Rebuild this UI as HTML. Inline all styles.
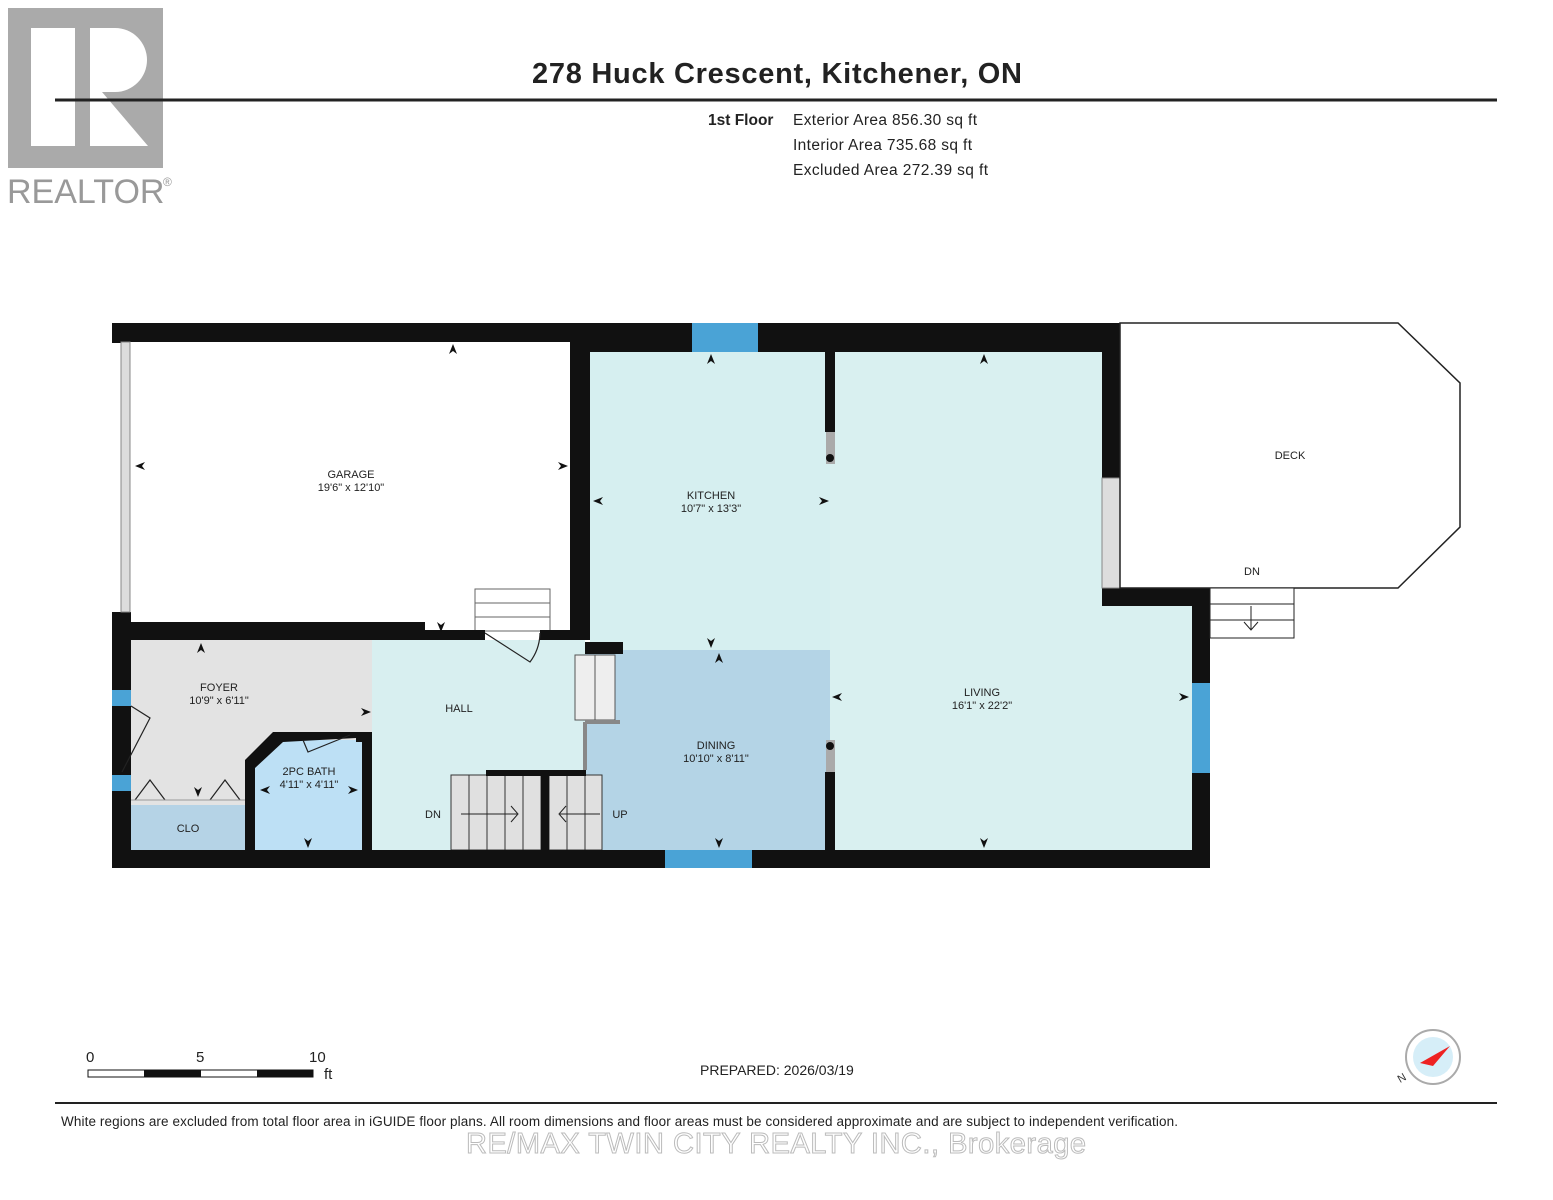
<!DOCTYPE html>
<html><head><meta charset="utf-8"><style>
body{margin:0;background:#fff;}
svg{display:block;font-family:"Liberation Sans",sans-serif;}
</style></head><body>
<svg width="1553" height="1200" viewBox="0 0 1553 1200">
<!-- Realtor logo -->
<rect x="8" y="8" width="155" height="160" fill="#aaa"/>
<rect x="31" y="28" width="44" height="118" fill="#fff"/>
<path d="M90 28 H115 A32 32 0 0 1 115 92 H102 L148 146 H90 Z" fill="#fff"/>
<text x="7" y="203" font-size="34" fill="#999">REALTOR</text>
<text x="163" y="186" font-size="12" fill="#999">®</text>
<text x="777" y="83" font-size="29" font-weight="bold" text-anchor="middle" fill="#222" textLength="490">278 Huck Crescent, Kitchener, ON</text>
<line x1="55" y1="100" x2="1497" y2="100" stroke="#222" stroke-width="3"/>
<g font-size="15.5" fill="#222">
<text x="708" y="125" font-weight="bold">1st Floor</text>
<text x="793" y="125" textLength="184">Exterior Area 856.30 sq ft</text>
<text x="793" y="150" textLength="179">Interior Area 735.68 sq ft</text>
<text x="793" y="175" textLength="195">Excluded Area 272.39 sq ft</text>
</g>
<!-- fills -->
<rect x="590" y="352" width="240" height="300" fill="#d6eff0"/>
<rect x="830" y="352" width="272" height="498" fill="#d9f0f0"/>
<rect x="1100" y="606" width="92" height="244" fill="#d9f0f0"/>
<rect x="585" y="650" width="245" height="200" fill="#b4d4e6"/>
<rect x="372" y="640" width="213" height="210" fill="#d8eff0"/>
<rect x="131" y="640" width="241" height="210" fill="#e3e3e3"/>
<rect x="131" y="805" width="114" height="45" fill="#b5d3e6"/>
<polygon points="255,760 278,740 362,740 362,850 255,850" fill="#bde0f5"/>
<!-- stairs -->
<g fill="#e0e0e0" stroke="#333" stroke-width="1">
<rect x="451" y="775" width="90" height="75"/>
<rect x="549" y="775" width="53" height="75"/>
<line x1="469" y1="775" x2="469" y2="850"/><line x1="487" y1="775" x2="487" y2="850"/><line x1="505" y1="775" x2="505" y2="850"/><line x1="523" y1="775" x2="523" y2="850"/>
<line x1="567" y1="775" x2="567" y2="850"/><line x1="585" y1="775" x2="585" y2="850"/>
</g>
<path d="M461 814 H517 M511 806 L518 814 L511 822 M600 814 H560 M566 806 L559 814 L566 822" stroke="#222" fill="none"/>
<rect x="486" y="770" width="100" height="6" fill="#111"/>
<rect x="541" y="775" width="8" height="75" fill="#111"/>
<!-- garage steps -->
<rect x="475" y="589" width="75" height="42" fill="#fff" stroke="#666"/>
<line x1="475" y1="603" x2="550" y2="603" stroke="#666"/><line x1="475" y1="617" x2="550" y2="617" stroke="#666"/>
<!-- walls -->
<g fill="#111">
<rect x="112" y="323" width="1008" height="19"/>
<rect x="590" y="323" width="512" height="29"/>
<rect x="1102" y="323" width="18" height="155"/>
<rect x="112" y="612" width="19" height="256"/>
<rect x="112" y="323" width="9" height="20"/>
<rect x="112" y="850" width="1098" height="18"/>
<rect x="1192" y="588" width="18" height="280"/>
<rect x="1102" y="588" width="108" height="18"/>
<rect x="570" y="342" width="20" height="298"/>
<rect x="112" y="622" width="313" height="18"/>
<rect x="425" y="630" width="60" height="10"/>
<rect x="540" y="630" width="45" height="10"/>
<rect x="585" y="642" width="38" height="12"/>
<rect x="825" y="352" width="10" height="80"/>
<rect x="825" y="772" width="10" height="78"/>
<polygon points="245,760 273,732 372,732 372,850 362,850 362,742 356,742 356,738 283,742 255,768 255,850 245,850"/>
<rect x="112" y="770" width="19" height="10"/>
</g>
<rect x="826" y="432" width="9" height="32" fill="#aaa"/><circle cx="830" cy="458" r="4" fill="#111"/>
<rect x="826" y="740" width="9" height="32" fill="#aaa"/><circle cx="830" cy="746" r="4" fill="#111"/>
<rect x="121" y="342" width="9" height="270" fill="#ddd" stroke="#888"/>
<rect x="1102" y="478" width="18" height="110" fill="#ddd" stroke="#888"/>
<rect x="575" y="655" width="40" height="65" fill="#eee" stroke="#555"/>
<line x1="595" y1="655" x2="595" y2="720" stroke="#555"/>
<path d="M585 722 H620 M585 722 V770" stroke="#888" stroke-width="4" fill="none"/>
<!-- windows -->
<g fill="#4aa3d6">
<rect x="692" y="323" width="66" height="29"/>
<rect x="665" y="850" width="87" height="18"/>
<rect x="1192" y="683" width="18" height="90"/>
<rect x="112" y="690" width="19" height="16"/>
<rect x="112" y="775" width="19" height="16"/>
</g>
<!-- doors -->
<path d="M485 633 L530 662 A50 50 0 0 0 540 633" stroke="#222" fill="none" stroke-width="1.2"/>
<path d="M131 706 L150 718 L122 772" stroke="#222" fill="none" stroke-width="1.2"/>
<path d="M135 800 L150 780 L165 800 M210 800 L225 780 L240 800" stroke="#222" fill="none" stroke-width="1.2"/>
<line x1="131" y1="800" x2="245" y2="800" stroke="#999"/>
<path d="M303 740 L308 752 L350 735" stroke="#222" fill="none" stroke-width="1.2"/>
<!-- deck -->
<polygon points="1120,323 1398,323 1460,383 1460,527 1398,588 1120,588" fill="#fff" stroke="#222" stroke-width="1.5"/>
<rect x="1210" y="588" width="84" height="50" fill="#fff" stroke="#222"/>
<line x1="1210" y1="604" x2="1294" y2="604" stroke="#222"/><line x1="1210" y1="620" x2="1294" y2="620" stroke="#222"/>
<path d="M1251 606 V630 M1244 622 L1251 630 L1258 622" stroke="#222" fill="none"/>
<!-- labels -->
<g font-size="11" fill="#222" text-anchor="middle">
<text x="351" y="478">GARAGE</text><text x="351" y="491">19'6" x 12'10"</text>
<text x="711" y="499">KITCHEN</text><text x="711" y="512">10'7" x 13'3"</text>
<text x="982" y="696">LIVING</text><text x="982" y="709">16'1" x 22'2"</text>
<text x="716" y="749">DINING</text><text x="716" y="762">10'10" x 8'11"</text>
<text x="219" y="691">FOYER</text><text x="219" y="704">10'9" x 6'11"</text>
<text x="309" y="775">2PC BATH</text><text x="309" y="788">4'11" x 4'11"</text>
<text x="459" y="712">HALL</text>
<text x="188" y="832">CLO</text>
<text x="433" y="818">DN</text><text x="620" y="818">UP</text>
<text x="1290" y="459">DECK</text>
<text x="1252" y="575">DN</text>
</g>
<!-- dimension arrows -->
<g fill="#111">
<path d="M453 344 l-4 10 l4 -3 l4 3z"/><path d="M135 466 l10 -4 l-3 4 l3 4z"/><path d="M568 466 l-10 -4 l3 4 l-3 4z"/>
<path d="M711 354 l-4 10 l4 -3 l4 3z"/><path d="M711 648 l-4 -10 l4 3 l4 -3z"/>
<path d="M593 501 l10 -4 l-3 4 l3 4z"/><path d="M829 501 l-10 -4 l3 4 l-3 4z"/>
<path d="M984 354 l-4 10 l4 -3 l4 3z"/><path d="M984 848 l-4 -10 l4 3 l4 -3z"/>
<path d="M832 697 l10 -4 l-3 4 l3 4z"/><path d="M1189 697 l-10 -4 l3 4 l-3 4z"/>
<path d="M719 653 l-4 10 l4 -3 l4 3z"/><path d="M719 848 l-4 -10 l4 3 l4 -3z"/>
<path d="M201 643 l-4 10 l4 -3 l4 3z"/><path d="M371 712 l-10 -4 l3 4 l-3 4z"/><path d="M198 797 l-4 -10 l4 3 l4 -3z"/>
<path d="M308 848 l-4 -10 l4 3 l4 -3z"/><path d="M260 790 l10 -4 l-3 4 l3 4z"/><path d="M358 790 l-10 -4 l3 4 l-3 4z"/>
<path d="M441 632 l-4 -10 l4 3 l4 -3z"/>
</g>
<!-- scale -->
<g font-size="15" fill="#222">
<text x="86" y="1062">0</text><text x="196" y="1062">5</text><text x="309" y="1062">10</text><text x="324" y="1079">ft</text>
</g>
<rect x="88" y="1070" width="225" height="7" fill="#fff" stroke="#111"/>
<rect x="144" y="1070" width="57" height="7" fill="#111"/><rect x="257" y="1070" width="56" height="7" fill="#111"/>
<text x="700" y="1075" font-size="14" fill="#222">PREPARED: 2026/03/19</text>
<circle cx="1433" cy="1057" r="27" fill="#fff" stroke="#aaa" stroke-width="2"/>
<circle cx="1433" cy="1057" r="20" fill="#d6eef8"/>
<polygon points="1450,1046 1420,1063 1433,1066" fill="#e22"/>
<text x="1398" y="1081" font-size="11" fill="#333" transform="rotate(-30 1403 1078)">N</text>
<line x1="55" y1="1103" x2="1497" y2="1103" stroke="#222" stroke-width="2"/>
<text x="61" y="1126" font-size="13.5" fill="#222" textLength="1117">White regions are excluded from total floor area in iGUIDE floor plans. All room dimensions and floor areas must be considered approximate and are subject to independent verification.</text>
<text x="776" y="1153" font-size="29" fill="#fff" stroke="#bbb" stroke-width="1" text-anchor="middle" textLength="620">RE/MAX TWIN CITY REALTY INC., Brokerage</text>
</svg>
</body></html>
